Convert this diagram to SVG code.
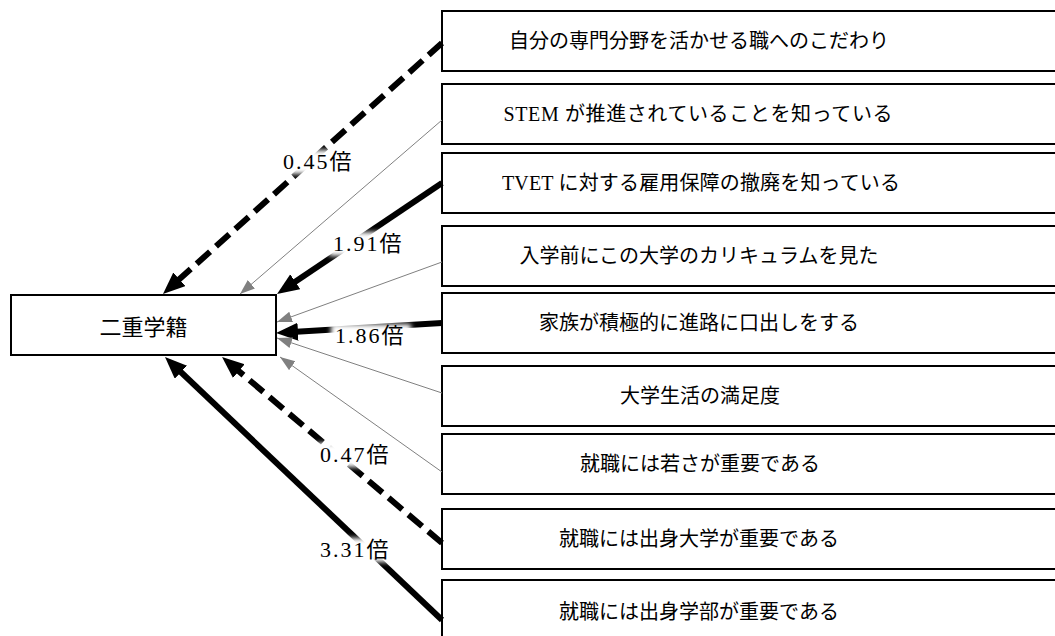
<svg xmlns="http://www.w3.org/2000/svg" width="1055" height="636" viewBox="0 0 1055 636">
<style>
.box{fill:#fff;stroke:#000;stroke-width:2}
.t{font-family:"Liberation Serif","Noto Sans CJK JP",serif;font-size:20px;fill:#000;text-anchor:middle}
.tl{font-family:"Liberation Serif","Noto Sans CJK JP",serif;font-size:22px;fill:#000;text-anchor:middle}
.lab{font-family:"Liberation Serif","Noto Sans CJK JP",serif;font-size:22px;letter-spacing:2px;fill:#000}
.thick{stroke:#000;stroke-width:6;fill:none;marker-end:url(#ab)}
.dash{stroke-dasharray:18 8}
.thin{stroke:#808080;stroke-width:1;fill:none;marker-end:url(#ag)}
.halo{fill:#fff;filter:url(#blur)}
</style>
<defs>
<marker id="ab" markerUnits="userSpaceOnUse" markerWidth="24" markerHeight="20" refX="10" refY="9" orient="auto">
<path d="M0,0 L22,9 L0,18 z" fill="#000"/>
</marker>
<marker id="ag" markerUnits="userSpaceOnUse" markerWidth="16" markerHeight="12" refX="15" refY="5.5" orient="auto">
<path d="M0,0 L15,5.5 L0,11 z" fill="#808080"/>
</marker>
<filter id="blur" x="-20%" y="-40%" width="140%" height="180%"><feGaussianBlur stdDeviation="2.5"/></filter>
</defs>
<rect width="1055" height="636" fill="#fff"/>
<g id="nodes">
<g id="n0"><rect class="box" x="11" y="295" width="265" height="60"/><text class="tl" x="143.5" y="335">二重学籍</text></g>
<g id="n1"><rect class="box" x="442" y="11" width="700" height="60"/><text class="t" x="699" y="48">自分の専門分野を活かせる職へのこだわり</text></g>
<g id="n2"><rect class="box" x="442" y="84" width="700" height="60"/><text class="t" x="698" y="121" textLength="389" lengthAdjust="spacing">STEM が推進されていることを知っている</text></g>
<g id="n3"><rect class="box" x="442" y="153" width="700" height="60"/><text class="t" x="701" y="190" textLength="398" lengthAdjust="spacing">TVET に対する雇用保障の撤廃を知っている</text></g>
<g id="n4"><rect class="box" x="442" y="226" width="700" height="60"/><text class="t" x="699" y="263">入学前にこの大学のカリキュラムを見た</text></g>
<g id="n5"><rect class="box" x="442" y="293" width="700" height="60"/><text class="t" x="699" y="330">家族が積極的に進路に口出しをする</text></g>
<g id="n6"><rect class="box" x="442" y="366" width="700" height="60"/><text class="t" x="700" y="403">大学生活の満足度</text></g>
<g id="n7"><rect class="box" x="442" y="434" width="700" height="60"/><text class="t" x="700" y="471">就職には若さが重要である</text></g>
<g id="n8"><rect class="box" x="442" y="509" width="700" height="60"/><text class="t" x="699" y="546">就職には出身大学が重要である</text></g>
<g id="n9"><rect class="box" x="442" y="580" width="700" height="64"/><text class="t" x="699" y="619">就職には出身学部が重要である</text></g>
</g>
<g id="connectors">
<line class="thick dash" x1="442" y1="43" x2="171.9" y2="286"/>
<line class="thin" x1="442" y1="120" x2="240" y2="294"/>
<line class="thick" x1="442" y1="183" x2="287" y2="287.3"/>
<line class="thin" x1="442" y1="262" x2="277" y2="322"/>
<line class="thick" x1="442" y1="323" x2="288" y2="332.3"/>
<line class="thin" x1="442" y1="393" x2="277" y2="338"/>
<line class="thin" x1="442" y1="472" x2="280" y2="357"/>
<line class="thick dash" x1="442" y1="543" x2="231.2" y2="364.7"/>
<line class="thick" x1="442" y1="620" x2="173.7" y2="365.3"/>
<g id="labels">
<rect class="halo" x="279" y="150" width="80" height="24"/>
<text class="lab" x="283" y="169">0.45倍</text>
<rect class="halo" x="329" y="232" width="80" height="24"/>
<text class="lab" x="333" y="251">1.91倍</text>
<rect class="halo" x="331" y="324" width="80" height="24"/>
<text class="lab" x="335" y="343">1.86倍</text>
<rect class="halo" x="316" y="443" width="80" height="24"/>
<text class="lab" x="320" y="462">0.47倍</text>
<rect class="halo" x="316" y="538" width="80" height="24"/>
<text class="lab" x="320" y="557">3.31倍</text>
</g>
</g>
</svg>
